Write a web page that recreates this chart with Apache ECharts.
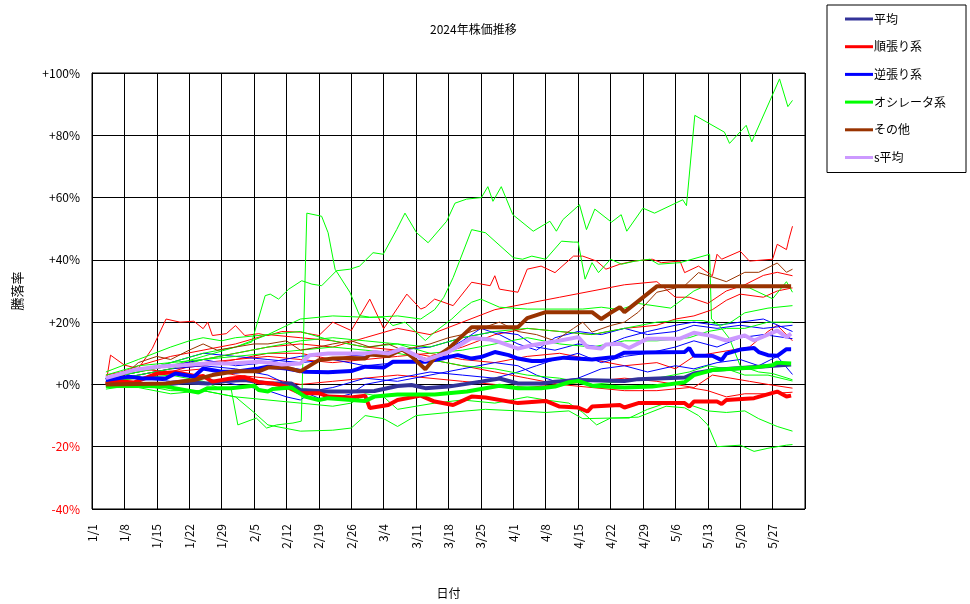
<!DOCTYPE html>
<html><head><meta charset="utf-8">
<script src="https://cdn.jsdelivr.net/npm/echarts@6/dist/echarts.min.js"></script>
<style>html,body{margin:0;padding:0;background:#fff}#c{width:970px;height:604px}</style>
</head><body><div id="c"></div>
<script>
// x = days since 2024/1/1, y = 騰落率 (%)
const titleText = '2024年株価推移';
const yTicks = [-40, -20, 0, 20, 40, 60, 80, 100];
const legendNames = ['平均', '順張り系', '逆張り系', 'オシレータ系', 'その他', 's平均'];

// thick average lines
const avgAll = [[3,0],[16,0],[20,0.7],[25,0.3],[29,1.1],[33,1.4],[38,0.3],[43,0.3],[45,-1.8],[51,-2.3],[56,-2.3],[61,-2.1],[66,-0.5],[69,-0.2],[72,-1.2],[77,-0.7],[84,0.9],[88,1.9],[92,0.3],[97,0.3],[100,0.9],[105,1.4],[115,1.1],[118,1.7],[128,2.2],[130,3.5],[134,4.6],[151,6.4]];
const avgTrend = [[3,0],[5,1.1],[9,0.6],[14,3.5],[18,3.9],[23,2.5],[24,2.7],[26,0.9],[30,1.9],[33,2.3],[36,0.7],[39,0.3],[42,-0.7],[45,-2.8],[49,-2.8],[51,-3.9],[56,-4.2],[59,-3.6],[60,-7.6],[64,-6.6],[66,-5],[71,-3.6],[74,-5.5],[78,-6.6],[82,-3.9],[85,-4.2],[92,-6],[98,-5.3],[101,-7.1],[105,-7.4],[107,-8.7],[108,-7.1],[114,-6.6],[115,-7.4],[118,-6],[128,-6],[129,-7.1],[130,-5.5],[135,-5.5],[136,-6.3],[137,-5],[143,-4.4],[148,-2.3],[150,-3.9],[151,-3.6]];
const avgContra = [[3,1.4],[8,2.5],[11,1.9],[16,2],[18,3.5],[22,2.5],[24,5.1],[28,4.1],[31,4.1],[36,5.1],[38,5.7],[42,5.1],[46,4.1],[51,3.9],[56,4.3],[59,5.7],[63,5.4],[65,7.3],[72,7.3],[74,7.8],[76,8.5],[79,9.4],[82,8.3],[84,8.8],[87,10.4],[90,9.4],[92,8.3],[95,7.5],[97,7.5],[102,8.6],[108,8],[113,8.8],[115,10.2],[128,10.4],[129,11.7],[130,9.2],[134,9.2],[136,7.8],[137,9.9],[140,11.2],[143,11.7],[144,10.4],[146,9.4],[148,9.2],[150,11.3],[151,11.3]];
const avgOsc = [[3,-0.2],[16,-0.7],[23,-2.6],[25,-1.2],[30,-1.2],[35,-0.4],[36,-1.8],[38,-2.3],[39,-1.5],[43,-1],[46,-3.9],[49,-5],[51,-4.4],[59,-5.3],[61,-3.9],[66,-3.2],[74,-3.2],[81,-2.3],[88,-0.4],[92,-1.2],[97,-1.2],[100,-0.7],[103,0.7],[105,1.1],[108,-0.4],[115,-1],[121,-0.7],[128,0.7],[130,3],[134,4.6],[143,5.4],[147,6.2],[148,7],[151,6.7]];
const avgOther = [[3,0],[16,0.3],[22,1.4],[26,3],[31,4.2],[36,4.2],[38,5.4],[42,5.4],[45,4.2],[49,7.8],[52,8.3],[56,8.5],[59,8.3],[60,9.6],[64,9.1],[67,11.3],[69,9],[72,4.9],[74,8.5],[77,11.5],[82,18.4],[92,18.4],[94,21.3],[98,23.2],[108,23.2],[110,21],[112,23],[114,24.8],[115,23.2],[122,31.5],[151,31.5]];
const sAvg = [[3,2],[9,4.6],[14,5.7],[20,6.2],[25,6.7],[30,6.7],[36,7.3],[38,7],[41,6.4],[45,6.7],[47,9.4],[51,9.9],[59,9.9],[61,10.4],[64,9.9],[67,11.5],[72,7.8],[77,10.4],[82,14.9],[86,14.4],[88,13.6],[92,11.5],[95,12.6],[100,13.8],[105,15.2],[107,12],[110,11.5],[111,12.8],[114,13.1],[116,11.7],[120,14.7],[127,14.7],[130,16.6],[134,15.5],[137,14.1],[141,15.7],[143,14.1],[148,17.3],[150,15.2],[151,16.3]];

// thin lines: individual stocks
const trend1 = [[3,0],[4,9.4],[7,6.2],[10,5.1],[13,11.5],[16,21],[19,20],[22,20.3],[24,17.9],[25,20],[26,15.7],[29,16.3],[31,18.9],[33,15.7],[36,16.3],[38,15.7],[41,17],[45,16.8],[49,15.7],[52,20],[56,17.3],[60,27.4],[63,17.9],[68,29],[71,24.2],[72,24.8],[74,27.4],[78,25.3],[82,32.8],[86,31.7],[87,34.9],[88,30.6],[92,29.6],[94,37],[97,38],[100,35.9],[104,41.2],[106,41.2],[109,39.6],[111,37],[114,38.6],[117,39.6],[121,40.2],[123,39.1],[127,39.6],[128,35.9],[131,38],[134,34.9],[135,41.8],[136,40.2],[140,42.8],[142,39.6],[147,40.2],[148,45],[150,43.3],[150.5,46.5],[151.3,50.8]];
const trend2 = [[3,2],[10,4],[17,6],[24,8],[31,10],[38,12],[45,13],[52,12],[59,15],[66,18],[73,16],[80,20],[87,24],[94,26],[101,28],[108,30],[115,32],[122,33],[126,28],[129,28],[133,26],[137,30],[141,32],[145,35],[148,36],[151.3,34.9]];
const trend3 = [[3,1],[10,3],[17,5],[24,6],[31,8],[38,10],[45,10],[52,8],[59,10],[66,11],[73,9],[80,12],[87,16],[94,18],[101,17],[108,16],[115,18],[122,19],[126,21],[130,22],[134,24],[137,27],[140,29],[145,28],[148,30],[151.3,31]];
const trend4 = [[3,1],[10,2],[17,4],[24,5],[31,3],[38,2],[45,0],[52,1],[59,2],[66,3],[73,2],[80,1],[87,0],[94,-1],[101,0],[108,1],[115,2],[122,1],[126,0],[130,-1],[134,3],[138,2],[142,1],[146,0],[151.3,-1.2]];
const trend5 = [[3,3],[10,5],[17,4],[24,7],[31,8],[38,9],[45,8],[52,7],[59,8],[66,9],[73,10],[80,8],[87,7],[94,9],[101,10],[108,8],[115,6],[122,7],[126,5],[130,9],[134,10],[138,11],[142,12],[146,17],[148,19],[151.3,14]];
const trend6 = [[3,2],[10,6],[17,9],[24,11],[31,13],[38,16],[45,15],[52,14],[59,12],[66,11],[73,8],[80,6],[87,4],[94,2],[101,0],[108,-1],[115,-2],[122,-2],[129,-1],[133,-2],[137,-4],[141,-3],[146,-3],[151.3,-2.5]];
const contra1 = [[3,2],[10,4],[17,7],[24,10],[31,9],[38,8],[45,7],[52,8],[59,6],[66,7],[73,8],[80,14],[84,18],[88,16],[92,13],[96,11],[100,15],[105,17],[110,16],[115,18],[120,16],[126,17],[130,19],[135,18],[140,19],[145,18],[151.3,19]];
const contra2 = [[3,1],[10,3],[17,5],[24,6],[31,5],[38,3],[45,-2],[50,-5],[52,-4.5],[56,-3],[59,0],[66,2],[73,4],[80,3],[87,2],[92,4],[96,6],[100,8],[105,10],[110,7],[115,9],[120,10],[126,12],[130,14],[135,12],[140,15],[145,16],[151.3,14.7]];
const contra3 = [[3,1.5],[10,2],[17,1],[24,2],[31,0],[38,-2],[42,-4],[45,-5],[48,-2],[52,-1],[59,2],[66,1],[73,3],[80,5],[87,7],[92,6],[96,3],[100,1],[105,2],[110,5],[115,6],[120,4],[126,6],[130,5],[135,7],[140,8],[144,6],[148,9],[151.3,3.2]];
const contra4 = [[3,2],[10,5],[17,6],[24,8],[31,6],[38,7],[45,9],[52,10],[59,9],[66,11],[73,12],[80,15],[87,17],[92,16],[96,12],[100,11],[105,13],[110,12],[115,15],[120,17],[126,19],[130,20],[135,19],[140,20],[145,21],[151.3,17]];
const osc1 = [[3,2],[10,4],[17,7],[24,10],[31,12],[34.5,13.6],[37.4,28.5],[38.5,29],[40.3,27.4],[42.5,30.6],[45.3,33.3],[47.5,32.2],[49.6,31.7],[52.8,36.5],[55.7,37],[57.8,38],[60.7,42.3],[62.9,41.8],[65.8,49.7],[67.6,55],[70.1,48.7],[72.6,45.5],[76.6,52.4],[78.4,58.2],[80.9,59.5],[84.1,60],[85.5,63.5],[86.6,58.8],[88.4,63.5],[90.9,54.5],[95.3,49.2],[98.9,52.4],[100.3,49.2],[101.7,52.9],[105.3,57.7],[106.8,49.7],[108.6,56.3],[112.2,52.1],[114.3,54.5],[115.5,49.2],[119,56.6],[121.5,55],[127.6,59.3],[128.4,57.4],[130.2,86.4],[136.6,81],[137.7,77.4],[141.3,83.2],[142.5,77.9],[148.5,98.1],[150.3,89.2],[151.3,91.2]];
const osc2 = [[3,1],[10,2],[17,3],[24,1],[27.6,-1.3],[30,-1],[31.5,-13],[35.5,-10.8],[37.7,-14],[39.9,-13],[43.4,-12.4],[45.2,-11.8],[46.4,55],[49.6,54],[51,48.7],[52.5,37],[55.7,29.6],[57.8,22.1],[60,21.6],[62.9,21.6],[65,18.9],[67.6,20],[70,16.8],[72,14.1],[74,16.8],[77.7,21],[80,24.2],[82,26.4],[84,27.4],[88,24.8],[94,24.2],[98,24.2],[103,24.2],[106,24.2],[110,24.8],[114,24],[118,26],[125,24.5],[130,30],[133,32],[142,31],[147,27.5],[150,33],[151.3,29.6]];
const osc3 = [[3,2],[10,4],[17,6],[24,9],[31,12],[38,16],[45,21],[52,22],[60,21.5],[66,22],[71,21],[74,24],[76,28],[78,34.3],[82,49.7],[85,48.7],[91,40.7],[93,40.2],[95,41.2],[98,40.2],[101.4,46],[104,45.7],[105,45.7],[106.5,33.8],[108,39.1],[109.4,35.9],[112,40.2],[114.4,38.6],[117.3,39.6],[120.5,40.2],[122.3,38.6],[127,39.1],[133.4,41.8],[133.8,21],[135.5,18.9],[137.7,14.7],[140,6],[144,4],[147,3.5],[151.3,1.5]];
const osc4 = [[3,1],[10,3],[17,5],[24,8],[31,10],[38,12],[45,14],[52,15],[59,14],[66,13],[73,12],[80,15],[87,17],[94,18],[101,17],[108,16],[115,18],[122,20],[127,20.5],[132,20.5],[136,19],[138,20],[141,23],[146,24.5],[151.3,25.3]];
const osc5 = [[3,-1],[10,-1],[17,-3],[24,-2],[31,-4],[38,-5],[45,-6],[52,-7],[56,-6],[59,-3],[63,-4],[66,-8],[70,-7],[74,-6],[80,-5],[87,-6],[94,-4],[98,-5],[103,-6],[106,-9],[109,-13],[112,-10.8],[116,-10.8],[120,-8],[124,-6],[128,-6],[133,-8.5],[137,-9],[141,-8.5],[144,-11],[148,-13.5],[151.3,-15]];
const osc6 = [[3,-1.5],[10,0],[17,-2],[24,-2],[31,-4],[35,-9],[38,-13],[45,-15],[52,-14.7],[56,-14],[59,-10],[63,-11],[66,-13.5],[70,-10],[77,-9],[85,-8],[92,-8.5],[98,-9],[103,-8.5],[106,-11],[112,-10.8],[118,-10.5],[124,-7],[128,-7.5],[131,-10],[133,-13],[135,-20],[140,-19.5],[143,-21.5],[146,-20.5],[150,-19.5],[151.3,-19.3]];
const osc7 = [[3,3],[10,6],[17,7],[24,8],[31,9],[38,10],[45,11],[52,12],[59,11],[66,10],[73,8],[80,6],[87,5],[94,3],[101,2],[108,0],[115,1],[122,2],[129,4],[133,6],[137,5],[141,3],[146,3],[151.3,1.1]];
const osc8 = [[3,4],[10,8],[17,12],[21,14],[24,15],[28,14],[31,15],[38,16],[45,17],[52,14],[59,12],[66,13],[73,10],[80,11],[87,13],[94,15],[101,13],[108,12],[115,14],[122,14],[129,15],[133,17],[137,18],[141,18],[146,20],[151.3,20]];
const other1 = [[3,0],[7,3],[10,7],[14,9],[17,8],[21,11],[24,13],[27,11],[31,12],[35,13],[38,13],[42,14],[45,11],[49,12],[52,13],[56,14],[60,12],[64,13],[67,11],[70,12],[73,13],[77,15],[80,16],[84,18],[88,20],[92,17],[96,16],[100,14],[104,18],[106,20],[108,16.8],[112,18.9],[115,20],[118,23.2],[122,29.6],[125,30.6],[128,31.7],[131,35.9],[134,34.5],[137,33],[141,36],[144,36],[148,39],[150,36],[151.3,37]];

const COLORS = {avg:'#333399', trend:'#ff0000', contra:'#0000ff', osc:'#00ff00', other:'#993300', savg:'#cc99ff'};

const thinGroups = [
  {color: COLORS.trend, lines: [trend1, trend2, trend3, trend4, trend5, trend6]},
  {color: COLORS.contra, lines: [contra1, contra2, contra3, contra4]},
  {color: COLORS.osc, lines: [osc1, osc2, osc3, osc4, osc5, osc6, osc7, osc8]},
  {color: COLORS.other, lines: [other1]}
];
const thickSeries = [
  {name: legendNames[0], data: avgAll, color: COLORS.avg},
  {name: legendNames[1], data: avgTrend, color: COLORS.trend},
  {name: legendNames[2], data: avgContra, color: COLORS.contra},
  {name: legendNames[3], data: avgOsc, color: COLORS.osc},
  {name: legendNames[4], data: avgOther, color: COLORS.other},
  {name: legendNames[5], data: sAvg, color: COLORS.savg}
];

const series = [];
let k = 0;
thinGroups.forEach(g => g.lines.forEach(d => {
  series.push({name: 'stock' + (k++), type: 'line', data: d, showSymbol: false, symbol: 'none',
    lineStyle: {width: 1, color: g.color}, itemStyle: {color: g.color}, z: 2, silent: true});
}));
thickSeries.forEach((s, i) => {
  series.push({name: s.name, type: 'line', data: s.data, showSymbol: false, symbol: 'none',
    lineStyle: {width: 4, color: s.color}, itemStyle: {color: s.color}, z: 3 + i, silent: true});
});

const FONT = '"Noto Sans CJK JP", "Noto Sans", sans-serif';
function dayLabel(v) {
  const d = new Date(2024, 0, 1 + Math.round(v));
  return (d.getMonth() + 1) + '/' + d.getDate();
}

const chart = echarts.init(document.getElementById('c'), null, {renderer: 'canvas'});
chart.setOption({
  animation: false,
  backgroundColor: '#fff',
  textStyle: {fontFamily: FONT},
  title: {text: titleText, left: 425, top: 18,
    textStyle: {fontSize: 12, fontWeight: 'normal', color: '#000', fontFamily: FONT}},
  legend: {
    data: legendNames, orient: 'vertical', left: 827, top: 5,
    padding: [8, 20, 9, 18], itemGap: 15.7, itemWidth: 28, itemHeight: 3, icon: 'rect',
    borderColor: '#000', borderWidth: 1, backgroundColor: '#fff', borderRadius: 0,
    textStyle: {fontSize: 12, color: '#000', fontFamily: FONT, padding: [0,0,0,-4]},
    selectedMode: false
  },
  grid: {left: 92, top: 73, right: 165, bottom: 93, show: true, borderColor: '#000', borderWidth: 1, backgroundColor: 'transparent'},
  xAxis: {
    type: 'value', min: 0, max: 154, interval: 7,
    name: '日付', nameLocation: 'middle', nameGap: 78,
    nameTextStyle: {fontSize: 12, color: '#000', fontFamily: FONT},
    axisLine: {lineStyle: {color: '#000'}}, axisTick: {show: false},
    splitLine: {show: true, lineStyle: {color: '#000', width: 1}},
    axisLabel: {rotate: 90, margin: 15, fontSize: 12, color: '#000', showMaxLabel: false, formatter: dayLabel, fontFamily: FONT}
  },
  yAxis: {
    type: 'value', min: yTicks[0], max: yTicks[yTicks.length - 1], interval: yTicks[1] - yTicks[0],
    name: '騰落率', nameLocation: 'middle', nameGap: 68, nameRotate: 90,
    nameTextStyle: {fontSize: 13, color: '#000', fontFamily: FONT},
    axisLine: {lineStyle: {color: '#000'}}, axisTick: {show: false},
    splitLine: {show: true, lineStyle: {color: '#000', width: 1}},
    axisLabel: {margin: 12, fontSize: 12, fontFamily: FONT,
      formatter: v => (v >= 0 ? '+' : '') + v + '%',
      color: v => (Number(v) < 0 ? '#ff0000' : '#000')}
  },
  series: series
});
</script>
</body></html>
